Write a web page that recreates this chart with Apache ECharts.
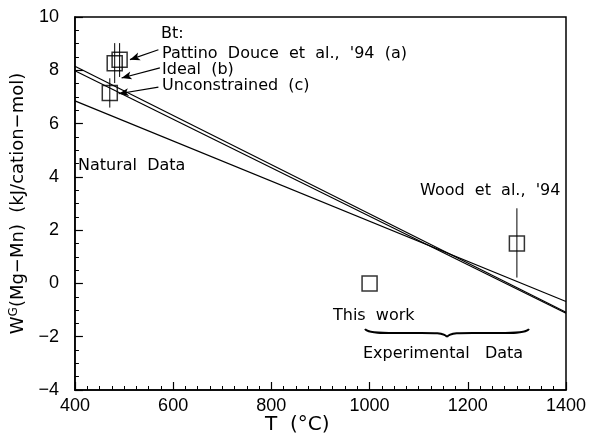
<!DOCTYPE html>
<html lang="en">
<head>
    <meta charset="UTF-8">
    <title>W(Mg-Mn) vs T</title>
    <script src="https://cdn.jsdelivr.net/npm/echarts@6/dist/echarts.min.js"></script>
</head>
<body>
<div id="main" style="width: 592px;height:437px;"></div>

<script type="text/javascript">
    // fitted lines, value at 400 and 1400 C
    var lineT = [400, 1400];
    var lineNatural = [6.85, -0.68];
    var lineA = [8.15, -1.08];
    var lineB = [7.98, -1.12];

    // Bt points: Pattino Douce (a), Ideal (b), Unconstrained (c)
    var btT = [491, 481, 471];
    var btW = [8.40, 8.26, 7.15];
    var btLow = [7.75, 7.52, 6.60];
    var btHigh = [9.02, 9.02, 7.70];

    // experimental points: this work, Wood et al. '94
    var expT = [1000, 1300];
    var expW = [0, 1.5];
    var expLow = [null, 0.22];
    var expHigh = [null, 2.82];

    // arrows from labels to the Bt points
    var arrowFrom = [[570, 8.77], [573, 8.09], [570, 7.37]];
    var arrowTo = [[512, 8.40], [495, 7.71], [489, 7.12]];

    var myChart = echarts.init(document.getElementById('main'));

    function pair(v) {
        return [[lineT[0], v[0]], [lineT[1], v[1]]];
    }

    var points = [];
    var errBars = [];
    for (var i = 0; i < btT.length; i++) {
        points.push([btT[i], btW[i]]);
        errBars.push([btT[i], btLow[i], btHigh[i]]);
    }
    for (var j = 0; j < expT.length; j++) {
        points.push([expT[j], expW[j]]);
        if (expLow[j] != null) errBars.push([expT[j], expLow[j], expHigh[j]]);
    }
    var arrows = arrowFrom.map(function (p, k) {
        return [{coord: p}, {coord: arrowTo[k]}];
    });

    var lineStyle = {color: '#000', width: 1.2};
    var txt = function (s, x, y) {
        return {
            type: 'text', x: x, y: y,
            style: {text: s, fill: '#000', fontSize: 16, fontFamily: 'DejaVu Sans', verticalAlign: 'middle'}
        };
    };
    var minus = function (v) {
        return String(v).replace('-', '\u2212');
    };

    var option = {
        animation: false,
        backgroundColor: '#fff',
        grid: {left: 73, right: 26, top: 17, bottom: 47, show: true, borderColor: '#000', borderWidth: 1.5},
        xAxis: {
            type: 'value', min: 400, max: 1400, interval: 200,
            axisLine: {onZero: false, lineStyle: {color: '#000', width: 1.5}},
            axisTick: {inside: true, length: 8, lineStyle: {color: '#000', width: 1.2}},
            minorTick: {show: true, splitNumber: 8, length: 4, lineStyle: {color: '#000', width: 1}},
            axisLabel: {color: '#000', fontSize: 18, fontFamily: 'Liberation Sans', margin: 7, formatter: minus},
            splitLine: {show: false}
        },
        yAxis: {
            type: 'value', min: -4, max: 10, interval: 2,
            axisLine: {onZero: false, lineStyle: {color: '#000', width: 1.5}},
            axisTick: {inside: true, length: 8, lineStyle: {color: '#000', width: 1.2}},
            minorTick: {show: true, splitNumber: 4, length: 4, lineStyle: {color: '#000', width: 1}},
            axisLabel: {color: '#000', fontSize: 18, fontFamily: 'Liberation Sans', margin: 16, formatter: minus},
            splitLine: {show: false},
            name: '{w|W}{g|G}{w|(Mg\u2212Mn)  (kJ/cation\u2212mol)}',
            nameLocation: 'middle',
            nameGap: 22,
            nameTextStyle: {
                rich: {
                    w: {fontSize: 18, fontFamily: 'DejaVu Sans', color: '#000'},
                    g: {fontSize: 12, fontFamily: 'DejaVu Sans', color: '#000', padding: [0, 0, 9, 0]}
                }
            }
        },
        series: [
            {type: 'line', data: pair(lineNatural), symbol: 'none', lineStyle: lineStyle},
            {type: 'line', data: pair(lineA), symbol: 'none', lineStyle: lineStyle},
            {
                type: 'line', data: pair(lineB), symbol: 'none', lineStyle: lineStyle,
                markLine: {
                    silent: true, symbol: ['none', 'arrow'], symbolSize: [6, 10],
                    lineStyle: {color: '#000', type: 'solid', width: 1.2},
                    label: {show: false},
                    data: arrows
                }
            },
            {
                type: 'custom',
                data: errBars,
                encode: {x: 0, y: [1, 2]},
                renderItem: function (params, api) {
                    var x = api.value(0);
                    var p1 = api.coord([x, api.value(1)]);
                    var p2 = api.coord([x, api.value(2)]);
                    return {
                        type: 'line',
                        shape: {x1: p1[0], y1: p1[1], x2: p2[0], y2: p2[1]},
                        style: {stroke: '#000', lineWidth: 1}
                    };
                }
            },
            {
                type: 'scatter', data: points, symbol: 'rect', symbolSize: 15, z: 5,
                itemStyle: {color: 'rgba(0,0,0,0)', borderColor: '#000', borderWidth: 1.5}
            }
        ],
        graphic: [
            txt('Bt:', 161, 34),
            txt('Pattino  Douce  et  al.,  \'94  (a)', 162, 54),
            txt('Ideal  (b)', 162, 70),
            txt('Unconstrained  (c)', 162, 86),
            txt('Natural  Data', 78, 166),
            txt('Wood  et  al.,  \'94', 420, 191),
            txt('This  work', 333, 316),
            txt('Experimental   Data', 363, 354),
            {
                type: 'text', x: 265, y: 425,
                style: {text: 'T  (\u00b0C)', fill: '#000', fontSize: 20, fontFamily: 'DejaVu Sans', verticalAlign: 'middle'}
            },
            // curly brace under the experimental points
            {type: 'bezierCurve', shape: {x1: 365, y1: 329, cpx1: 368, cpy1: 334, cpx2: 390, cpy2: 333, x2: 406, y2: 333}, style: {stroke: '#000', lineWidth: 2, fill: null}},
            {type: 'bezierCurve', shape: {x1: 406, y1: 333, cpx1: 430, cpy1: 333, cpx2: 444, cpy2: 332, x2: 447, y2: 337}, style: {stroke: '#000', lineWidth: 2, fill: null}},
            {type: 'bezierCurve', shape: {x1: 447, y1: 337, cpx1: 450, cpy1: 332, cpx2: 464, cpy2: 333, x2: 488, y2: 333}, style: {stroke: '#000', lineWidth: 2, fill: null}},
            {type: 'bezierCurve', shape: {x1: 488, y1: 333, cpx1: 504, cpy1: 333, cpx2: 526, cpy2: 334, x2: 529, y2: 329}, style: {stroke: '#000', lineWidth: 2, fill: null}}
        ]
    };
    myChart.setOption(option);
</script>
</body>
<style type="text/css">
    * {
        margin: 0;
        padding: 0;
    }
</style>
</html>
